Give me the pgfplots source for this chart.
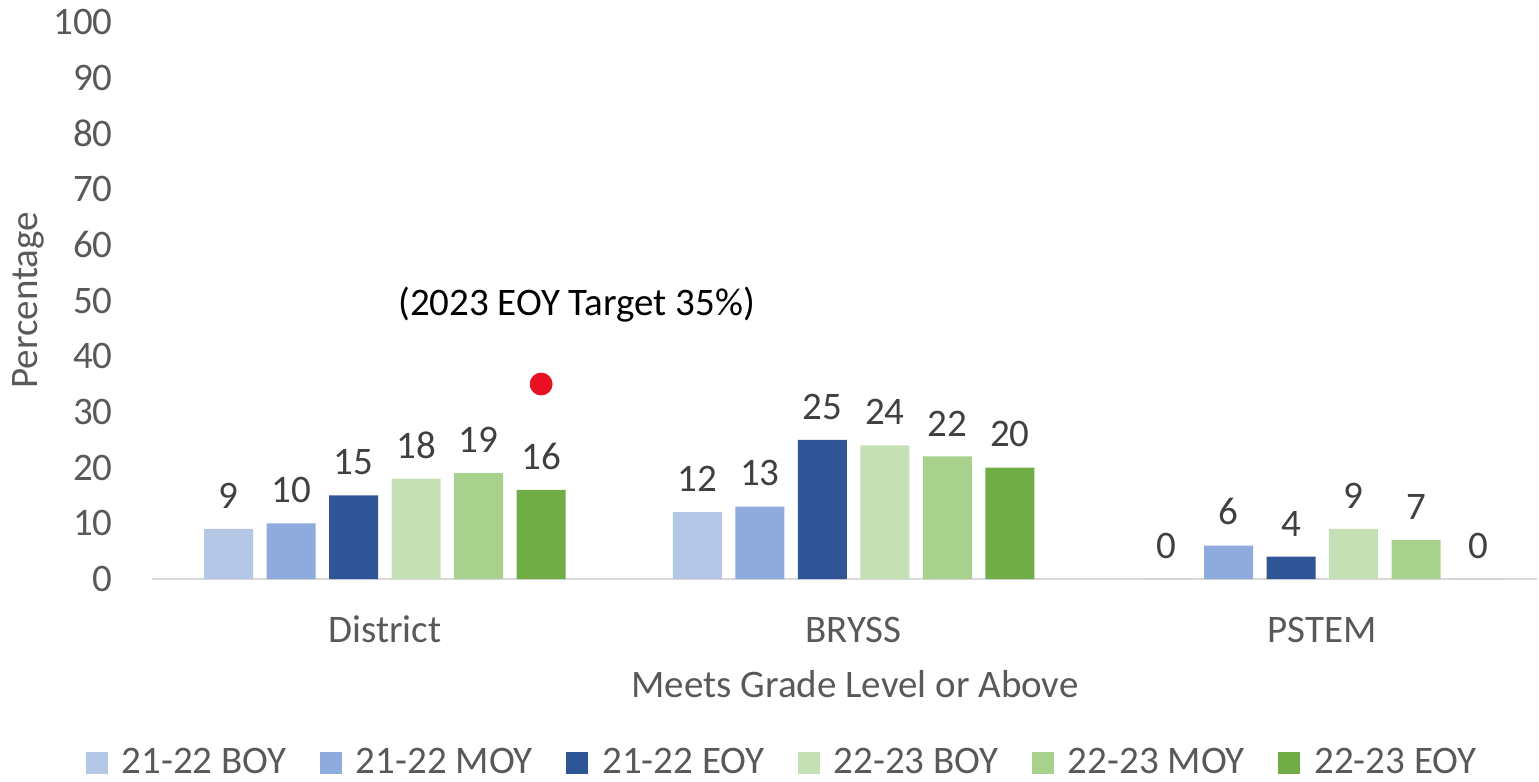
\documentclass[border=0pt]{standalone}
\usepackage{fontspec}
\setmainfont{Carlito}
\usepackage{pgfplots}
\pgfplotsset{compat=1.18}
\definecolor{c1}{HTML}{B4C7E7}
\definecolor{c2}{HTML}{8FAADC}
\definecolor{c3}{HTML}{2F5597}
\definecolor{c4}{HTML}{C5E0B4}
\definecolor{c5}{HTML}{A9D18E}
\definecolor{c6}{HTML}{70AD47}
\definecolor{tickgray}{HTML}{595959}
\definecolor{labgray}{HTML}{404040}
\definecolor{axgray}{HTML}{D9D9D9}
\definecolor{dotred}{HTML}{E81123}
\newcommand{\F}{\fontsize{19.5}{23}\selectfont}
\pgfplotsset{
  mybar/.style n args={2}{ybar, fill=#1, draw=none, bar shift=#2,
    nodes near coords,
    every node near coord/.append style={font=\F, text=labgray, anchor=south, inner sep=0pt, yshift=10pt, xshift=#2}},
}
\begin{document}
\begin{tikzpicture}
\useasboundingbox (-76pt,-101.5pt) rectangle (693.5pt,289.5pt);
\begin{axis}[
  at={(0,0)}, anchor=south west,
  scale only axis, width=692.5pt, height=278.5pt,
  xmin=-0.497, xmax=2.458, ymin=0, ymax=100,
  axis lines=left,
  y axis line style={draw=none},
  x axis line style={draw=axgray, line width=1pt, -},
  major tick length=0pt,
  ytick={0,10,...,100},
  xtick={0,1,2}, xticklabels={District,BRYSS,PSTEM},
  /pgf/number format/assume math mode=true,
  tick label style={font=\F, text=tickgray},
  yticklabel style={anchor=east, inner sep=0pt, xshift=-19.5pt},
  xticklabel style={anchor=base, inner sep=0pt, yshift=-31.5pt},
  xlabel={Meets Grade Level or Above},
  xlabel style={font=\F, text=tickgray, at={(axis description cs:0.5076,0)}, anchor=base, inner sep=0pt, yshift=-59pt},
  ylabel={Percentage},
  ylabel style={font=\F, text=tickgray, at={(axis description cs:-0.0895,0.5)}, anchor=center, inner sep=0pt},
  bar width=24.5pt,
  legend columns=6,
  legend style={at={(axis description cs:0.4556,-0.33)}, anchor=center, draw=none, font=\F, text=tickgray,
    inner sep=0pt, outer sep=0pt,
    /tikz/every odd column/.append style={column sep=5pt},
    /tikz/every even column/.append style={column sep=14.7pt}},
  legend image code/.code={\fill[#1] (0pt,-5.5pt) rectangle (11pt,5.5pt);},
  clip=false,
]
\addplot[mybar={c1}{-78.125pt}] coordinates {(0,9) (1,12) (2,0)};
\addplot[mybar={c2}{-46.875pt}] coordinates {(0,10) (1,13) (2,6)};
\addplot[mybar={c3}{-15.625pt}] coordinates {(0,15) (1,25) (2,4)};
\addplot[mybar={c4}{15.625pt}] coordinates {(0,18) (1,24) (2,9)};
\addplot[mybar={c5}{46.875pt}] coordinates {(0,19) (1,22) (2,7)};
\addplot[mybar={c6}{78.125pt}] coordinates {(0,16) (1,20) (2,0)};
\legend{21-22 BOY,21-22 MOY,21-22 EOY,22-23 BOY,22-23 MOY,22-23 EOY}
\addplot[only marks, mark=*, mark size=5.5pt, color=dotred, forget plot] coordinates {(0.3333,35)};
\node[font=\F, text=black] at (axis cs:0.409,49.2) {(2023 EOY Target 35\%)};
\end{axis}
\end{tikzpicture}
\end{document}
